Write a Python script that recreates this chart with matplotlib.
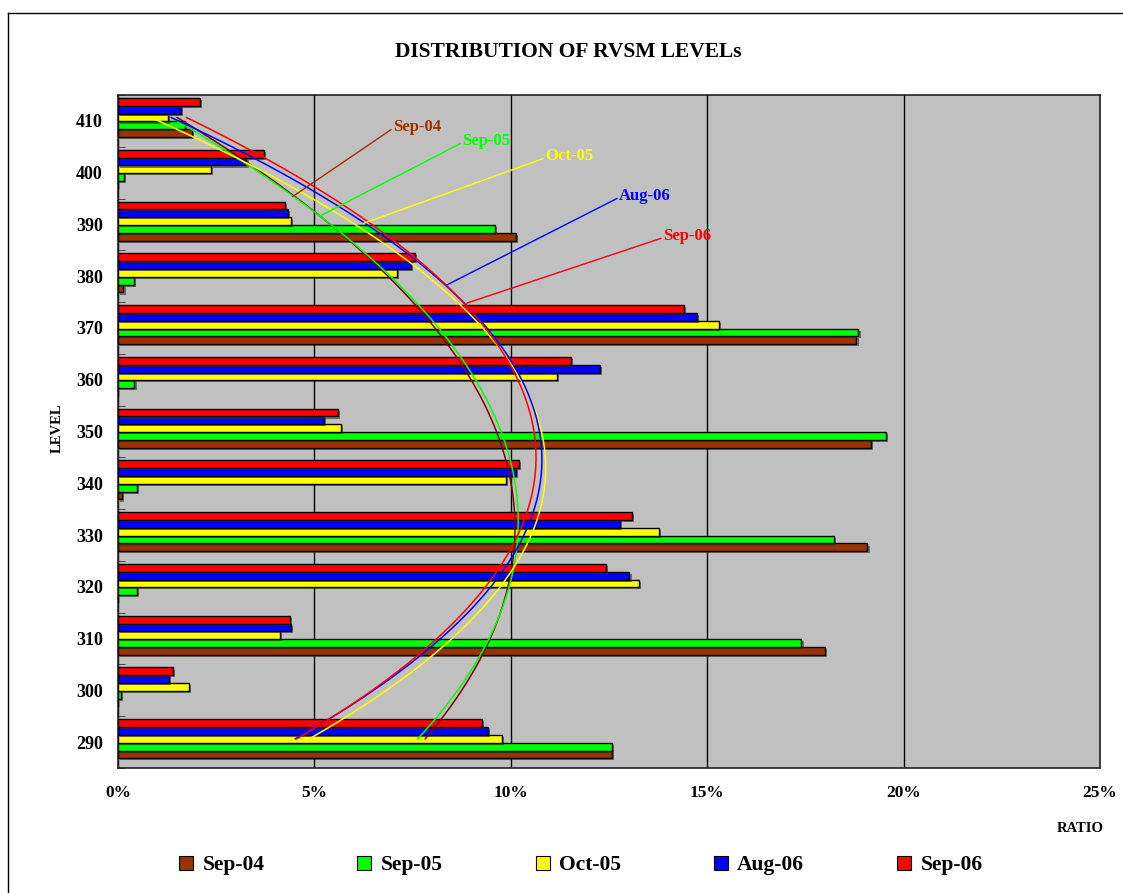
import numpy as np
import matplotlib
matplotlib.use("Agg")
import matplotlib.pyplot as plt
from matplotlib import patheffects as pe
from matplotlib.lines import Line2D

levels = ["290", "300", "310", "320", "330", "340", "350", "360", "370", "380", "390", "400", "410"]
series_names = ["Sep-04", "Sep-05", "Oct-05", "Aug-06", "Sep-06"]
sep04 = [12.57, 0.0, 18.00, 0.0, 19.08, 0.09, 19.16, 0.0, 18.80, 0.14, 10.13, 0.0, 1.89]
sep05 = [12.57, 0.08, 17.40, 0.49, 18.23, 0.48, 19.56, 0.42, 18.85, 0.41, 9.59, 0.15, 1.70]
oct05 = [9.78, 1.80, 4.12, 13.27, 13.78, 9.88, 5.67, 11.18, 15.29, 7.11, 4.40, 2.36, 1.28]
aug06 = [9.41, 1.29, 4.40, 13.02, 12.77, 10.13, 5.25, 12.27, 14.75, 7.46, 4.32, 3.27, 1.60]
sep06 = [9.26, 1.41, 4.37, 12.43, 13.08, 10.21, 5.61, 11.54, 14.41, 7.57, 4.26, 3.71, 2.09]
xticks = [0, 5, 10, 15, 20, 25]
xtick_labels = ["0%", "5%", "10%", "15%", "20%", "25%"]

colors = ["#993300", "#00FF00", "#FFFF00", "#0000FF", "#FF0000"]
data = [sep04, sep05, oct05, aug06, sep06]

W, H = 1123, 893
fig = plt.figure(figsize=(W / 100, H / 100), dpi=100)
fig.patch.set_facecolor("white")
serif = ["Liberation Serif", "DejaVu Serif"]

ax = fig.add_axes([118 / W, 1 - 768 / H, (1100 - 118) / W, (768 - 95) / H])
ax.set_facecolor("#C0C0C0")

n = len(levels)
idx = np.arange(n)
bh = 0.151
shift = 0.064
offsets = np.array([-2, -1, 0, 1, 2]) * bh + shift
for k, (vals, c) in enumerate(zip(data, colors)):
    ax.barh(idx + offsets[k], vals, height=bh, color=c, edgecolor="black", linewidth=1.0,
            zorder=3,
            path_effects=[pe.SimplePatchShadow(offset=(1.5, -1.5), shadow_rgbFace="#333333", alpha=0.6),
                          pe.Normal()])

# polynomial (order 2) trend lines
t = np.linspace(0, n - 1, 300)
for vals, c in zip(data, colors):
    p = np.polyfit(idx, vals, 2)
    lc = "#800000" if c == "#993300" else c
    ax.plot(np.polyval(p, t), t + shift, color=lc, lw=1.1, zorder=5)

ax.set_xlim(0, 25)
ax.set_ylim(-0.5, n - 0.5)
ax.set_xticks(xticks)
ax.set_xticklabels(xtick_labels, fontfamily=serif, fontweight="bold", fontsize=12.5)
ax.set_yticks(idx)
ax.set_yticklabels(levels, fontfamily=serif, fontweight="bold", fontsize=13)
ax.set_yticks(np.arange(n + 1) - 0.5, minor=True)
ax.tick_params(axis="y", which="major", length=0, pad=11)
ax.tick_params(axis="y", which="minor", length=5, direction="in", color="#333333")
ax.tick_params(axis="x", which="major", length=0, pad=12)
ax.grid(axis="x", color="black", lw=1.0, zorder=1)
for s in ax.spines.values():
    s.set_color("#222222")
    s.set_linewidth(1.2)

# annotations
ann = [("Sep-04", 7.0, 11.88, 4.45, 10.54),
       ("Sep-05", 8.76, 11.61, 5.14, 10.16),
       ("Oct-05", 10.87, 11.32, 6.25, 10.02),
       ("Aug-06", 12.75, 10.55, 8.37, 8.83),
       ("Sep-06", 13.87, 9.78, 8.88, 8.48)]
for (name, tx, ty, px, py), c in zip(ann, colors):
    ax.plot([px, tx - 0.05], [py, ty - 0.05], color=c, lw=1.0, zorder=6)
    ax.text(tx, ty, name, color=c, fontfamily=serif, fontweight="bold", fontsize=12,
            ha="left", va="center", zorder=7)

fig.text(568 / W, 1 - 52 / H, "DISTRIBUTION OF RVSM LEVELs", ha="center", va="center",
         fontfamily=serif, fontweight="bold", fontsize=15.5)
fig.text(57 / W, 1 - 428 / H, "LEVEL", rotation=90, ha="center", va="center",
         fontfamily=serif, fontweight="bold", fontsize=10.5)
fig.text(1080 / W, 1 - 828 / H, "RATIO", ha="center", va="center",
         fontfamily=serif, fontweight="bold", fontsize=10.5)

handles = [Line2D([], [], marker="s", ls="none", markersize=10, markerfacecolor=c,
                  markeredgecolor="black", markeredgewidth=0.8) for c in colors]
leg = fig.legend(handles, series_names, loc="center", bbox_to_anchor=(580 / W, 1 - 865 / H),
                 ncol=5, frameon=False, handlelength=0.8, handletextpad=0.35, columnspacing=4.25,
                 prop={"family": serif, "weight": "bold", "size": 15.5})

# outer chart border
fig.add_artist(Line2D([8 / W, 8 / W], [0, 1 - 13 / H], color="black", lw=1.0))
fig.add_artist(Line2D([8 / W, 1], [1 - 13 / H, 1 - 13 / H], color="black", lw=1.0))

fig.savefig("out.png", dpi=100)
